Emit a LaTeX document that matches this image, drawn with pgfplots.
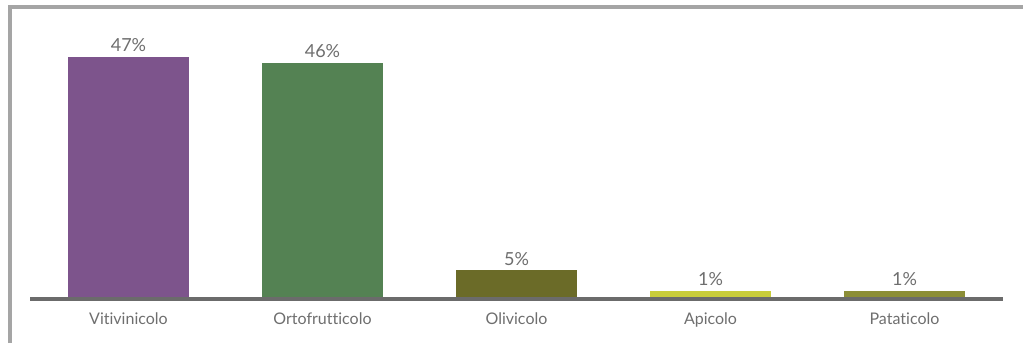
\documentclass[border=0pt]{standalone}
\usepackage{pgfplots}
\pgfplotsset{compat=1.18}
\usepackage{fontspec}
\setmainfont{Lato}[Ligatures=NoCommon]
\definecolor{cViti}{RGB}{125,84,140}
\definecolor{cOrto}{RGB}{84,130,83}
\definecolor{cOli}{RGB}{107,107,40}
\definecolor{cApi}{RGB}{201,205,58}
\definecolor{cPata}{RGB}{140,142,55}
\definecolor{txt}{RGB}{110,110,110}
\definecolor{axl}{RGB}{107,107,107}
\definecolor{frm}{RGB}{165,165,165}
\begin{document}
\begin{tikzpicture}
\useasboundingbox (-22.5pt,-33pt) rectangle (744.75pt,224.25pt);
\begin{axis}[
  at={(0,0)}, anchor=south west,
  scale only axis,
  width=729.75pt, height=209.25pt,
  xmin=-0.5077, xmax=4.5077,
  ymin=-0.39, ymax=54.25,
  axis line style={draw=none},
  axis x line*=bottom,
  axis y line=none,
  ytick=\empty,
  xtick={0,1,2,3,4},
  xticklabels={Vitivinicolo,Ortofrutticolo,Olivicolo,Apicolo,Pataticolo},
  major tick length=0pt,
  tick label style={font=\fontsize{12}{14}\selectfont, text=txt},
  xticklabel style={yshift=-6.5pt},
  /pgf/number format/assume math mode=true,
  clip=false,
]
\draw[axl, line width=2.3pt] (axis cs:-0.5077,-0.39) -- (axis cs:4.5077,-0.39);
\addplot[ybar, bar width=90.75pt, draw=none, fill=cViti] coordinates {(0,47)};
\addplot[ybar, bar width=90.75pt, draw=none, fill=cOrto] coordinates {(1,45.8)};
\addplot[ybar, bar width=90.75pt, draw=none, fill=cOli] coordinates {(2,5.2)};
\addplot[ybar, bar width=90.75pt, draw=none, fill=cApi] coordinates {(3,1.2)};
\addplot[ybar, bar width=90.75pt, draw=none, fill=cPata] coordinates {(4,1.2)};
\addplot[only marks, mark=none, nodes near coords, point meta=explicit symbolic,
  every node near coord/.style={font=\fontsize{13.5}{15}\selectfont, text=txt, anchor=south, yshift=0.3pt}]
  coordinates {(0,47)[47\%] (1,45.8)[46\%] (2,5.2)[5\%] (3,1.2)[1\%] (4,1.2)[1\%]};
\end{axis}
\draw[frm, line width=2.8pt] (-15pt,-33pt) -- (-15pt,219pt);
\draw[frm, line width=2.8pt] (-16.4pt,219pt) -- (744.75pt,219pt);
\end{tikzpicture}
\end{document}
